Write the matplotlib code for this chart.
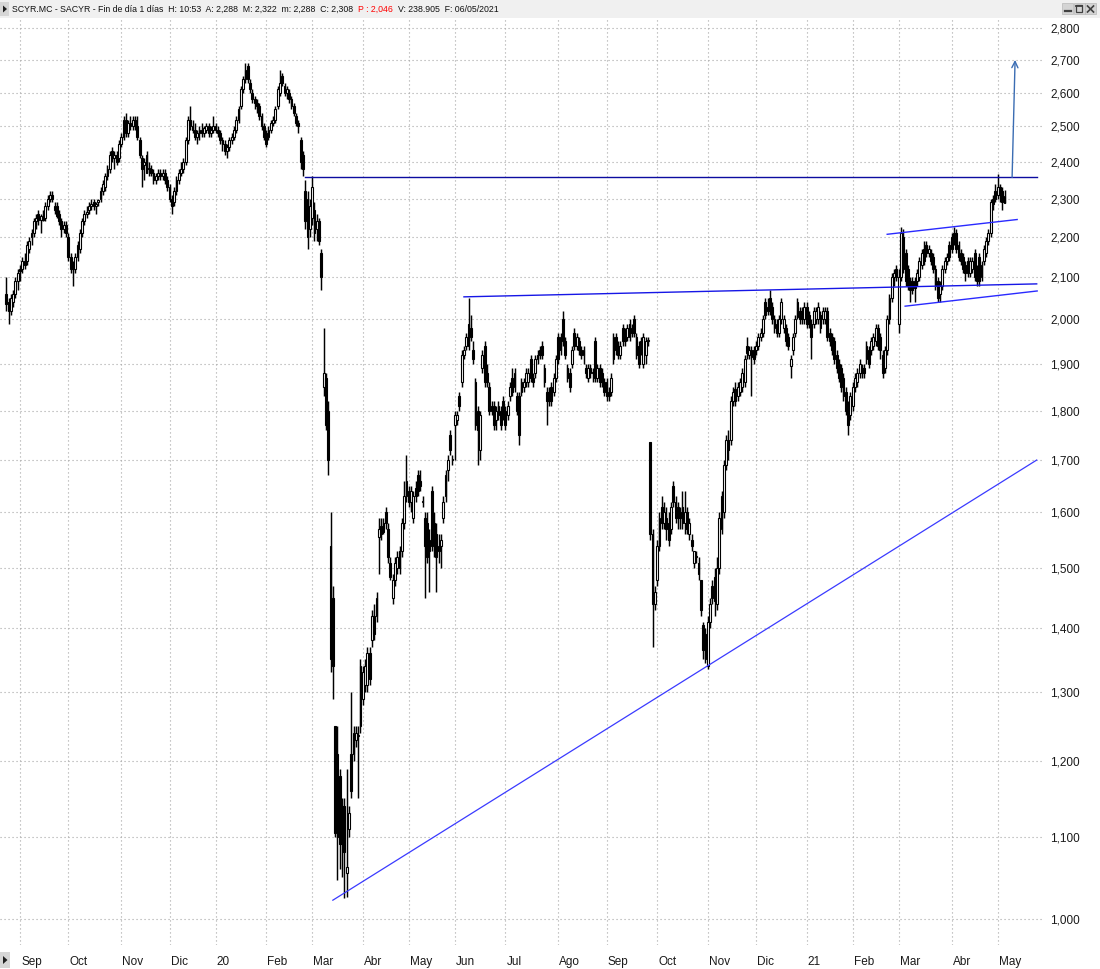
import numpy as np
import pandas as pd
import matplotlib
matplotlib.use("Agg")
import matplotlib.pyplot as plt
from matplotlib.ticker import NullLocator
from matplotlib.transforms import blended_transform_factory
from matplotlib.patches import Rectangle, Polygon
from matplotlib.lines import Line2D

plt.rcParams['font.family'] = ['Liberation Sans', 'DejaVu Sans']

# ------------------------------------------------------------------ data
first_session = "2019-08-23"
last_session = "2021-05-06"
market_holidays = ["2019-12-25", "2019-12-26", "2020-01-01", "2020-04-10",
                   "2020-04-13", "2020-05-01", "2020-12-25", "2021-01-01",
                   "2021-04-02", "2021-04-05"]

open_ = [
    2.06, 2.04, 2.02, 2.04, 2.06, 2.09, 2.12, 2.12, 2.14, 2.14,
    2.17, 2.20, 2.21, 2.24, 2.26, 2.245, 2.25, 2.25, 2.28, 2.30,
    2.31, 2.27, 2.28, 2.26, 2.24, 2.22, 2.23, 2.20, 2.15, 2.13,
    2.12, 2.15, 2.17, 2.21, 2.24, 2.26, 2.27, 2.28, 2.29, 2.28,
    2.29, 2.30, 2.32, 2.33, 2.36, 2.38, 2.43, 2.41, 2.42, 2.41,
    2.45, 2.47, 2.52, 2.48, 2.51, 2.50, 2.52, 2.50, 2.46, 2.41,
    2.39, 2.42, 2.38, 2.38, 2.37, 2.35, 2.36, 2.37, 2.36, 2.37,
    2.35, 2.33, 2.30, 2.29, 2.32, 2.35, 2.37, 2.38, 2.40, 2.46,
    2.52, 2.50, 2.49, 2.47, 2.48, 2.49, 2.48, 2.49, 2.50, 2.48,
    2.49, 2.50, 2.49, 2.48, 2.46, 2.45, 2.43, 2.44, 2.46, 2.47,
    2.49, 2.52, 2.56, 2.61, 2.64, 2.68, 2.63, 2.60, 2.58, 2.57,
    2.56, 2.53, 2.50, 2.48, 2.47, 2.49, 2.51, 2.52, 2.56, 2.60,
    2.65, 2.62, 2.60, 2.60, 2.58, 2.56, 2.53, 2.51, 2.46, 2.42,
    2.32, 2.30, 2.22, 2.25, 2.27, 2.22, 2.24, 2.16, 1.85, 1.87,
    1.80, 1.54, 1.45, 1.25, 1.21, 1.18, 1.14, 1.14, 1.055, 1.11,
    1.21, 1.21, 1.23, 1.235, 1.25, 1.29, 1.31, 1.31, 1.36, 1.38,
    1.42, 1.42, 1.555, 1.575, 1.58, 1.60, 1.57, 1.51, 1.45, 1.48,
    1.50, 1.53, 1.53, 1.58, 1.63, 1.64, 1.62, 1.59, 1.645, 1.67,
    1.66, 1.62, 1.59, 1.58, 1.55, 1.64, 1.58, 1.56, 1.54, 1.54,
    1.59, 1.63, 1.68, 1.75, 1.70, 1.77, 1.78, 1.83, 1.86, 1.92,
    1.94, 1.99, 1.98, 1.93, 1.86, 1.80, 1.72, 1.89, 1.94, 1.88,
    1.85, 1.81, 1.81, 1.78, 1.79, 1.80, 1.82, 1.80, 1.79, 1.83,
    1.87, 1.85, 1.83, 1.83, 1.84, 1.85, 1.86, 1.86, 1.91, 1.87,
    1.88, 1.91, 1.93, 1.94, 1.89, 1.84, 1.84, 1.85, 1.84, 1.87,
    1.96, 1.93, 2.00, 1.95, 1.89, 1.88, 1.90, 1.97, 1.94, 1.95,
    1.93, 1.92, 1.89, 1.87, 1.88, 1.88, 1.95, 1.87, 1.89, 1.88,
    1.86, 1.86, 1.84, 1.84, 1.91, 1.96, 1.94, 1.92, 1.98, 1.97,
    1.96, 1.99, 1.98, 2.00, 1.96, 1.94, 1.95, 1.90, 1.92, 1.95,
    1.735, 1.56, 1.44, 1.48, 1.54, 1.61, 1.58, 1.59, 1.58, 1.57,
    1.65, 1.62, 1.61, 1.60, 1.61, 1.58, 1.60, 1.56, 1.55, 1.51,
    1.52, 1.51, 1.48, 1.405, 1.39, 1.34, 1.41, 1.47, 1.485, 1.44,
    1.50, 1.57, 1.60, 1.69, 1.74, 1.74, 1.82, 1.845, 1.83, 1.84,
    1.85, 1.86, 1.94, 1.92, 1.93, 1.93, 1.93, 1.94, 1.96, 1.97,
    2.04, 2.03, 2.05, 2.03, 1.98, 1.99, 1.97, 2.00, 1.98, 1.98,
    1.96, 1.895, 1.93, 1.97, 2.04, 2.02, 2.02, 2.00, 2.03, 2.01,
    1.99, 1.99, 2.00, 2.00, 2.01, 2.00, 2.00, 2.02, 1.97, 1.96,
    1.95, 1.92, 1.90, 1.89, 1.87, 1.84, 1.81, 1.79, 1.81, 1.85,
    1.86, 1.88, 1.89, 1.89, 1.91, 1.93, 1.93, 1.94, 1.95, 1.98,
    1.96, 1.92, 1.89, 1.93, 2.00, 2.05, 2.10, 2.12, 1.99, 2.10,
    2.20, 2.16, 2.12, 2.09, 2.09, 2.09, 2.09, 2.10, 2.13, 2.17,
    2.18, 2.16, 2.16, 2.15, 2.12, 2.09, 2.06, 2.08, 2.12, 2.14,
    2.18, 2.20, 2.21, 2.21, 2.18, 2.16, 2.15, 2.13, 2.14, 2.11,
    2.12, 2.16, 2.12, 2.15, 2.10, 2.14, 2.16, 2.19, 2.21, 2.30,
    2.32, 2.31, 2.33, 2.32, 2.288,
]

high = [
    2.10, 2.05, 2.06, 2.07, 2.10, 2.12, 2.13, 2.15, 2.16, 2.19,
    2.20, 2.22, 2.25, 2.26, 2.27, 2.26, 2.27, 2.29, 2.31, 2.32,
    2.32, 2.29, 2.29, 2.27, 2.25, 2.24, 2.24, 2.21, 2.16, 2.14,
    2.16, 2.19, 2.22, 2.25, 2.27, 2.28, 2.29, 2.30, 2.30, 2.29,
    2.30, 2.33, 2.35, 2.37, 2.39, 2.43, 2.44, 2.43, 2.43, 2.46,
    2.48, 2.53, 2.54, 2.52, 2.53, 2.53, 2.53, 2.53, 2.47, 2.42,
    2.41, 2.43, 2.40, 2.39, 2.38, 2.37, 2.38, 2.38, 2.38, 2.38,
    2.36, 2.34, 2.31, 2.33, 2.36, 2.38, 2.40, 2.41, 2.47, 2.53,
    2.56, 2.52, 2.51, 2.49, 2.50, 2.51, 2.50, 2.51, 2.51, 2.50,
    2.53, 2.51, 2.50, 2.49, 2.47, 2.46, 2.45, 2.47, 2.48, 2.50,
    2.53, 2.56, 2.62, 2.65, 2.69, 2.69, 2.64, 2.61, 2.59, 2.58,
    2.57, 2.54, 2.51, 2.49, 2.50, 2.52, 2.53, 2.56, 2.62, 2.67,
    2.66, 2.63, 2.62, 2.61, 2.59, 2.57, 2.54, 2.52, 2.47, 2.43,
    2.35, 2.32, 2.30, 2.36, 2.29, 2.26, 2.25, 2.17, 1.98, 1.88,
    1.82, 1.60, 1.47, 1.25, 1.25, 1.19, 1.15, 1.15, 1.19, 1.14,
    1.30, 1.25, 1.25, 1.25, 1.35, 1.34, 1.35, 1.37, 1.37, 1.43,
    1.44, 1.46, 1.59, 1.59, 1.59, 1.61, 1.58, 1.52, 1.49, 1.52,
    1.53, 1.54, 1.59, 1.66, 1.71, 1.65, 1.65, 1.64, 1.66, 1.68,
    1.68, 1.63, 1.60, 1.60, 1.57, 1.65, 1.60, 1.58, 1.56, 1.56,
    1.63, 1.68, 1.71, 1.76, 1.71, 1.80, 1.80, 1.84, 1.93, 1.94,
    1.97, 2.05, 2.01, 1.95, 1.87, 1.81, 1.80, 1.93, 1.95, 1.90,
    1.86, 1.82, 1.82, 1.81, 1.82, 1.81, 1.83, 1.81, 1.82, 1.86,
    1.89, 1.89, 1.84, 1.84, 1.87, 1.87, 1.89, 1.89, 1.92, 1.88,
    1.92, 1.93, 1.94, 1.95, 1.90, 1.85, 1.85, 1.86, 1.88, 1.92,
    1.97, 1.97, 2.02, 1.96, 1.90, 1.89, 1.94, 1.98, 1.97, 1.96,
    1.94, 1.94, 1.90, 1.90, 1.90, 1.89, 1.96, 1.90, 1.90, 1.89,
    1.87, 1.87, 1.85, 1.88, 1.97, 1.97, 1.95, 1.95, 1.99, 1.98,
    1.99, 2.00, 1.99, 2.01, 1.97, 1.95, 1.96, 1.97, 1.96, 1.96,
    1.735, 1.57, 1.47, 1.55, 1.60, 1.63, 1.62, 1.61, 1.60, 1.62,
    1.66, 1.63, 1.62, 1.61, 1.64, 1.64, 1.61, 1.59, 1.56, 1.53,
    1.53, 1.52, 1.48, 1.41, 1.40, 1.42, 1.45, 1.48, 1.50, 1.52,
    1.60, 1.64, 1.70, 1.75, 1.76, 1.83, 1.85, 1.86, 1.86, 1.87,
    1.89, 1.92, 1.96, 1.94, 1.94, 1.94, 1.95, 1.97, 1.98, 2.01,
    2.05, 2.05, 2.07, 2.04, 2.01, 2.00, 2.01, 2.05, 2.01, 1.99,
    1.97, 1.92, 1.97, 2.01, 2.05, 2.03, 2.03, 2.04, 2.04, 2.02,
    2.00, 2.03, 2.03, 2.04, 2.02, 2.03, 2.03, 2.03, 1.98, 1.97,
    1.96, 1.93, 1.91, 1.90, 1.88, 1.85, 1.82, 1.84, 1.86, 1.88,
    1.89, 1.91, 1.90, 1.90, 1.95, 1.94, 1.96, 1.97, 1.99, 1.99,
    1.97, 1.93, 1.94, 2.01, 2.06, 2.11, 2.12, 2.13, 2.12, 2.225,
    2.22, 2.17, 2.13, 2.10, 2.10, 2.10, 2.12, 2.15, 2.17, 2.19,
    2.19, 2.18, 2.17, 2.16, 2.13, 2.10, 2.09, 2.13, 2.15, 2.16,
    2.19, 2.21, 2.225, 2.22, 2.19, 2.17, 2.16, 2.14, 2.15, 2.15,
    2.15, 2.17, 2.13, 2.16, 2.14, 2.18, 2.20, 2.22, 2.30, 2.31,
    2.34, 2.365, 2.34, 2.33, 2.322,
]

low = [
    2.02, 1.99, 2.01, 2.03, 2.05, 2.07, 2.09, 2.11, 2.12, 2.13,
    2.16, 2.18, 2.20, 2.22, 2.23, 2.21, 2.24, 2.24, 2.27, 2.29,
    2.29, 2.26, 2.25, 2.23, 2.20, 2.21, 2.20, 2.14, 2.11, 2.08,
    2.11, 2.14, 2.16, 2.20, 2.23, 2.25, 2.26, 2.27, 2.27, 2.26,
    2.28, 2.29, 2.31, 2.32, 2.35, 2.37, 2.40, 2.38, 2.39, 2.40,
    2.44, 2.46, 2.47, 2.47, 2.49, 2.49, 2.49, 2.46, 2.41, 2.33,
    2.35, 2.37, 2.36, 2.36, 2.34, 2.34, 2.35, 2.35, 2.35, 2.34,
    2.32, 2.29, 2.26, 2.28, 2.31, 2.34, 2.36, 2.37, 2.39, 2.45,
    2.49, 2.48, 2.46, 2.45, 2.46, 2.47, 2.47, 2.48, 2.47, 2.47,
    2.48, 2.48, 2.47, 2.45, 2.43, 2.42, 2.41, 2.43, 2.45, 2.46,
    2.48, 2.51, 2.55, 2.60, 2.63, 2.63, 2.60, 2.57, 2.55, 2.54,
    2.52, 2.49, 2.46, 2.44, 2.46, 2.48, 2.50, 2.51, 2.55, 2.59,
    2.62, 2.59, 2.58, 2.57, 2.55, 2.53, 2.50, 2.48, 2.38, 2.36,
    2.22, 2.17, 2.20, 2.23, 2.19, 2.19, 2.18, 2.07, 1.83, 1.76,
    1.67, 1.33, 1.29, 1.10, 1.046, 1.06, 1.05, 1.025, 1.026, 1.10,
    1.15, 1.20, 1.22, 1.15, 1.24, 1.28, 1.30, 1.30, 1.31, 1.37,
    1.38, 1.41, 1.49, 1.55, 1.56, 1.57, 1.51, 1.48, 1.44, 1.47,
    1.49, 1.49, 1.52, 1.57, 1.62, 1.61, 1.60, 1.58, 1.62, 1.63,
    1.64, 1.61, 1.45, 1.51, 1.46, 1.53, 1.52, 1.46, 1.51, 1.50,
    1.58, 1.62, 1.66, 1.71, 1.69, 1.70, 1.77, 1.80, 1.85, 1.91,
    1.93, 1.93, 1.95, 1.90, 1.76, 1.69, 1.70, 1.88, 1.85, 1.85,
    1.79, 1.79, 1.76, 1.76, 1.78, 1.76, 1.78, 1.76, 1.78, 1.82,
    1.83, 1.84, 1.79, 1.73, 1.83, 1.84, 1.85, 1.85, 1.86, 1.85,
    1.87, 1.90, 1.91, 1.91, 1.85, 1.77, 1.81, 1.81, 1.83, 1.86,
    1.90, 1.92, 1.94, 1.91, 1.86, 1.84, 1.89, 1.93, 1.93, 1.92,
    1.91, 1.90, 1.87, 1.86, 1.87, 1.86, 1.86, 1.86, 1.85, 1.85,
    1.83, 1.82, 1.82, 1.83, 1.90, 1.92, 1.91, 1.91, 1.94, 1.94,
    1.95, 1.95, 1.96, 1.96, 1.91, 1.89, 1.92, 1.89, 1.90, 1.94,
    1.55, 1.37, 1.43, 1.47, 1.53, 1.57, 1.57, 1.55, 1.54, 1.56,
    1.61, 1.58, 1.57, 1.57, 1.57, 1.56, 1.56, 1.55, 1.53, 1.50,
    1.51, 1.48, 1.42, 1.35, 1.345, 1.335, 1.40, 1.44, 1.42, 1.43,
    1.49, 1.56, 1.59, 1.68, 1.70, 1.73, 1.81, 1.81, 1.82, 1.83,
    1.84, 1.85, 1.91, 1.91, 1.83, 1.90, 1.92, 1.93, 1.95, 1.96,
    2.00, 2.01, 2.01, 1.99, 1.97, 1.96, 1.96, 1.99, 1.97, 1.94,
    1.93, 1.87, 1.92, 1.96, 2.00, 1.99, 1.99, 1.99, 1.98, 1.98,
    1.91, 1.98, 1.99, 1.99, 1.97, 1.99, 1.99, 1.95, 1.94, 1.92,
    1.90, 1.88, 1.86, 1.84, 1.82, 1.79, 1.75, 1.78, 1.80, 1.84,
    1.85, 1.87, 1.87, 1.87, 1.90, 1.89, 1.92, 1.93, 1.94, 1.93,
    1.91, 1.87, 1.88, 1.92, 1.99, 2.04, 2.08, 2.09, 1.97, 2.09,
    2.11, 2.08, 2.07, 2.04, 2.06, 2.04, 2.08, 2.09, 2.12, 2.13,
    2.15, 2.15, 2.13, 2.11, 2.07, 2.04, 2.04, 2.07, 2.11, 2.13,
    2.14, 2.16, 2.18, 2.16, 2.14, 2.13, 2.11, 2.09, 2.10, 2.10,
    2.11, 2.09, 2.08, 2.08, 2.09, 2.13, 2.15, 2.18, 2.20, 2.27,
    2.29, 2.30, 2.29, 2.27, 2.288,
]

close = [
    2.035, 2.02, 2.05, 2.06, 2.09, 2.11, 2.115, 2.14, 2.13, 2.18,
    2.19, 2.21, 2.24, 2.25, 2.245, 2.255, 2.245, 2.28, 2.30, 2.31,
    2.30, 2.28, 2.255, 2.24, 2.22, 2.23, 2.21, 2.15, 2.12, 2.12,
    2.15, 2.18, 2.21, 2.24, 2.26, 2.265, 2.28, 2.285, 2.28, 2.285,
    2.295, 2.32, 2.34, 2.36, 2.38, 2.42, 2.41, 2.42, 2.40, 2.45,
    2.47, 2.52, 2.48, 2.51, 2.50, 2.52, 2.50, 2.47, 2.42, 2.38,
    2.40, 2.37, 2.38, 2.37, 2.35, 2.36, 2.37, 2.36, 2.37, 2.35,
    2.33, 2.30, 2.28, 2.32, 2.35, 2.37, 2.38, 2.40, 2.46, 2.52,
    2.50, 2.49, 2.47, 2.48, 2.49, 2.48, 2.495, 2.50, 2.48, 2.49,
    2.50, 2.49, 2.48, 2.46, 2.45, 2.43, 2.44, 2.46, 2.47, 2.49,
    2.52, 2.55, 2.61, 2.64, 2.67, 2.64, 2.61, 2.58, 2.57, 2.56,
    2.53, 2.50, 2.47, 2.45, 2.49, 2.51, 2.52, 2.55, 2.61, 2.63,
    2.63, 2.60, 2.61, 2.58, 2.56, 2.54, 2.51, 2.50, 2.40, 2.38,
    2.24, 2.20, 2.28, 2.33, 2.21, 2.24, 2.19, 2.10, 1.88, 1.77,
    1.70, 1.35, 1.34, 1.105, 1.10, 1.09, 1.09, 1.08, 1.062, 1.13,
    1.16, 1.24, 1.24, 1.235, 1.34, 1.33, 1.34, 1.36, 1.32, 1.42,
    1.39, 1.45, 1.57, 1.56, 1.565, 1.58, 1.52, 1.485, 1.48, 1.51,
    1.52, 1.50, 1.58, 1.63, 1.66, 1.62, 1.64, 1.63, 1.63, 1.64,
    1.65, 1.62, 1.54, 1.52, 1.53, 1.54, 1.55, 1.52, 1.53, 1.55,
    1.62, 1.67, 1.70, 1.72, 1.70, 1.79, 1.79, 1.81, 1.92, 1.93,
    1.96, 1.94, 1.96, 1.91, 1.77, 1.76, 1.79, 1.92, 1.86, 1.86,
    1.80, 1.80, 1.77, 1.80, 1.81, 1.77, 1.79, 1.77, 1.81, 1.85,
    1.84, 1.88, 1.80, 1.75, 1.86, 1.86, 1.88, 1.88, 1.87, 1.86,
    1.91, 1.92, 1.92, 1.92, 1.86, 1.82, 1.82, 1.82, 1.87, 1.91,
    1.91, 1.96, 1.95, 1.92, 1.87, 1.85, 1.93, 1.94, 1.96, 1.93,
    1.92, 1.93, 1.88, 1.89, 1.89, 1.88, 1.87, 1.89, 1.86, 1.86,
    1.84, 1.83, 1.83, 1.87, 1.96, 1.93, 1.92, 1.94, 1.95, 1.95,
    1.98, 1.96, 1.97, 1.97, 1.92, 1.90, 1.93, 1.96, 1.95, 1.95,
    1.56, 1.44, 1.46, 1.54, 1.59, 1.58, 1.60, 1.57, 1.55, 1.61,
    1.62, 1.59, 1.59, 1.59, 1.58, 1.60, 1.57, 1.58, 1.54, 1.53,
    1.52, 1.49, 1.43, 1.365, 1.35, 1.41, 1.44, 1.45, 1.445, 1.50,
    1.59, 1.63, 1.69, 1.74, 1.72, 1.82, 1.84, 1.82, 1.85, 1.86,
    1.88, 1.91, 1.925, 1.93, 1.915, 1.91, 1.94, 1.96, 1.97, 2.00,
    2.01, 2.02, 2.02, 2.00, 2.00, 1.97, 2.00, 2.04, 2.00, 1.95,
    1.94, 1.91, 1.96, 2.00, 2.005, 2.00, 2.00, 2.03, 1.99, 1.99,
    1.96, 2.02, 2.02, 2.03, 1.98, 2.02, 2.02, 1.96, 1.95, 1.93,
    1.91, 1.89, 1.87, 1.85, 1.83, 1.80, 1.77, 1.83, 1.85, 1.87,
    1.88, 1.90, 1.88, 1.88, 1.94, 1.90, 1.95, 1.96, 1.98, 1.94,
    1.93, 1.88, 1.93, 2.00, 2.05, 2.10, 2.11, 2.10, 2.10, 2.21,
    2.12, 2.09, 2.08, 2.07, 2.07, 2.075, 2.11, 2.14, 2.16, 2.14,
    2.16, 2.17, 2.14, 2.12, 2.08, 2.05, 2.08, 2.12, 2.14, 2.15,
    2.15, 2.17, 2.19, 2.17, 2.15, 2.14, 2.12, 2.11, 2.11, 2.14,
    2.14, 2.10, 2.09, 2.09, 2.13, 2.17, 2.19, 2.21, 2.29, 2.285,
    2.30, 2.33, 2.31, 2.29, 2.308,
]

price_ticks = [1.0, 1.1, 1.2, 1.3, 1.4, 1.5, 1.6, 1.7, 1.8, 1.9,
               2.0, 2.1, 2.2, 2.3, 2.4, 2.5, 2.6, 2.7, 2.8]
month_abbr = {2: "Feb", 3: "Mar", 4: "Abr", 5: "May", 6: "Jun", 7: "Jul",
              8: "Ago", 9: "Sep", 10: "Oct", 11: "Nov", 12: "Dic"}

# drawn studies: (bar position, price) anchors
resistance_bars = [130, 448]
resistance_prices = [2.357, 2.357]
neckline_bars = [199, 448]
neckline_prices = [2.053, 2.084]
support_bars = [142, 448]
support_prices = [1.022, 1.70]
channel_top_bars = [383, 439.5]
channel_top_prices = [2.207, 2.245]
channel_low_bars = [390.8, 448.2]
channel_low_prices = [2.031, 2.067]
target_bars = [437.3, 438.6]
target_prices = [2.357, 2.70]

header_main = "SCYR.MC - SACYR - Fin de día 1 días  H: 10:53  A: 2,288  M: 2,322  m: 2,288  C: 2,308"
header_prev = "P : 2,046"
header_tail = "V: 238.905  F: 06/05/2021"

# ------------------------------------------------------------------ figure
W, H = 1100, 969
fig = plt.figure(figsize=(W / 100, H / 100), dpi=100)
fig.patch.set_facecolor("white")


def fx(px):
    return px / W


def fy(py):
    return 1 - py / H


ax = fig.add_axes([0, fy(945), fx(1042), fy(18) - fy(945)])
ax.set_yscale("log")
ax.set_xlim(-2.7, 450.3)
ax.set_ylim(0.9704, 2.834)
for s in ax.spines.values():
    s.set_visible(False)

n = len(close)
dates = pd.bdate_range(first_session, last_session)
dates = dates[~dates.isin(pd.to_datetime(market_holidays))][:n]
xs = np.arange(n)

month_starts = [i for i in range(1, n) if dates[i].month != dates[i - 1].month]
month_labels = []
for i in month_starts:
    d = dates[i]
    month_labels.append(f"{d.year % 100:02d}" if d.month == 1 else month_abbr[d.month])

# axes ticks / grid
ax.set_yticks(price_ticks)
ax.yaxis.set_minor_locator(NullLocator())
ax.set_yticklabels([f"{v:.3f}".replace(".", ",") for v in price_ticks])
ax.yaxis.tick_right()
ax.tick_params(axis="y", length=0, pad=6, labelsize=8.5, labelcolor="#1a1a1a")
ax.set_xticks(month_starts)
ax.set_xticklabels([])
ax.tick_params(axis="x", length=0)
ax.grid(True, which="major", color="#a6a6a6", linestyle=(0, (1, 2.6)), linewidth=0.8)
ax.set_axisbelow(True)

trans = blended_transform_factory(ax.transData, ax.transAxes)
lab_y = -(962 - 945) / (945 - 18)
for pos, lab in zip(month_starts, month_labels):
    ax.text(pos + 0.5, lab_y, lab, transform=trans, ha="left", va="center",
            fontsize=8.5, color="#1a1a1a", clip_on=False)

# candles
o = np.array(open_)
h = np.array(high)
l = np.array(low)
c = np.array(close)
up = c >= o
ax.vlines(xs, l, h, color="black", linewidth=1.05, zorder=3)
bottoms = np.minimum(o, c)
heights = np.maximum(np.abs(c - o), 0.002)
ax.bar(xs, heights, bottom=bottoms, width=0.8,
       color=np.where(up, "white", "black"), edgecolor="black",
       linewidth=0.8, zorder=4)

# studies
ax.plot(resistance_bars, resistance_prices, color="#0c0ca0", lw=1.0, zorder=5)
ax.plot(neckline_bars, neckline_prices, color="#1616e6", lw=1.0, zorder=5)
ax.plot(support_bars, support_prices, color="#3a3aff", lw=0.9, zorder=5)
ax.plot(channel_top_bars, channel_top_prices, color="#2a2aff", lw=1.0, zorder=5)
ax.plot(channel_low_bars, channel_low_prices, color="#2a2aff", lw=1.0, zorder=5)
ax.annotate("", xy=(target_bars[1], target_prices[1]),
            xytext=(target_bars[0], target_prices[0]),
            arrowprops=dict(arrowstyle="->,head_length=0.45,head_width=0.22",
                            color="#3b6db3", lw=1.0, shrinkA=0, shrinkB=0),
            zorder=6)

# ------------------------------------------------------------------ window chrome
fig.patches.append(Rectangle((0, fy(18)), 1, 18 / H, transform=fig.transFigure,
                             facecolor="#f0f0f0", edgecolor="none", zorder=0))
fig.patches.append(Rectangle((fx(0), fy(16)), fx(9), 14 / H, transform=fig.transFigure,
                             facecolor="#d6d6d6", edgecolor="none", zorder=1))
fig.patches.append(Polygon([(fx(3), fy(5.5)), (fx(3), fy(12.5)), (fx(7), fy(9))],
                           closed=True, transform=fig.transFigure,
                           facecolor="#202020", edgecolor="none", zorder=2))
# bottom-left button
fig.patches.append(Rectangle((fx(0), fy(968)), fx(10), 16 / H, transform=fig.transFigure,
                             facecolor="#d6d6d6", edgecolor="none", zorder=1))
fig.patches.append(Polygon([(fx(3), fy(956)), (fx(3), fy(964)), (fx(7.5), fy(960))],
                           closed=True, transform=fig.transFigure,
                           facecolor="#202020", edgecolor="none", zorder=2))
# window buttons
for bx in (1062, 1073.5, 1085):
    fig.patches.append(Rectangle((fx(bx), fy(14)), fx(11), 10.5 / H,
                                 transform=fig.transFigure, facecolor="#d4d4d4",
                                 edgecolor="#b8b8b8", linewidth=0.5, zorder=1))
fig.lines.append(Line2D([fx(1064.5), fx(1070.5)], [fy(11), fy(11)], transform=fig.transFigure,
                        color="#404040", lw=1.6, zorder=2))
fig.patches.append(Rectangle((fx(1076), fy(12)), fx(6), 6.5 / H, transform=fig.transFigure,
                             facecolor="none", edgecolor="#404040", linewidth=0.9, zorder=2))
fig.lines.append(Line2D([fx(1076), fx(1082)], [fy(6.2), fy(6.2)], transform=fig.transFigure,
                        color="#404040", lw=1.3, zorder=2))
fig.lines.append(Line2D([fx(1087.5), fx(1093.5)], [fy(6), fy(12)], transform=fig.transFigure,
                        color="#404040", lw=1.2, zorder=2))
fig.lines.append(Line2D([fx(1087.5), fx(1093.5)], [fy(12), fy(6)], transform=fig.transFigure,
                        color="#404040", lw=1.2, zorder=2))

# header text placed piece by piece
renderer = fig.canvas.get_renderer()
xpos = fx(12)
for txt, col in ((header_main, "#111111"), (header_prev, "#ff0000"), (header_tail, "#111111")):
    t = fig.text(xpos, fy(9), txt, color=col, fontsize=6.3, ha="left", va="center", zorder=3)
    bb = t.get_window_extent(renderer=renderer)
    xpos = fx(bb.x1 + 5)

fig.savefig("out.png", dpi=100)
